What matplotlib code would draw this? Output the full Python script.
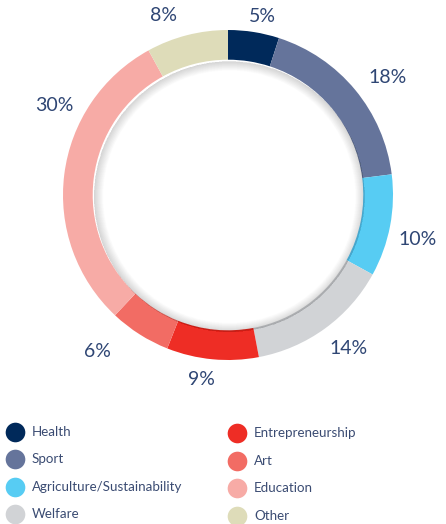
import numpy as np
import matplotlib.pyplot as plt
from matplotlib.patches import Wedge

# data
categories = ['Health', 'Sport', 'Agriculture/Sustainability', 'Welfare',
              'Entrepreneurship', 'Art', 'Education', 'Other']
shares = [5, 18, 10, 14, 9, 6, 30, 8]
colors = ['#00295a', '#65749b', '#57ccf3', '#d1d3d6',
          '#ee2d25', '#f26c64', '#f7aba6', '#dedcb9']

# label positions (in ring radius units) for each slice
label_pos = [(0.21, 1.08), (0.97, 0.715), (1.15, -0.27), (0.73, -0.93),
             (-0.16, -1.12), (-0.79, -0.95), (-1.05, 0.545), (-0.39, 1.09)]

plt.rcParams['font.family'] = ['Lato', 'DejaVu Sans']
txt_color = '#2f4674'

fig = plt.figure(figsize=(4.46, 5.24), dpi=100)
ax = fig.add_axes([0, 104 / 524, 1, 420 / 524])

ring_w = 0.18
r_in = 1 - ring_w
ax.pie(shares, colors=colors, startangle=90, counterclock=False, radius=1,
       wedgeprops=dict(width=ring_w, linewidth=0), normalize=True)
ax.set_aspect('auto')
ax.set_xlim(-228 / 165, 218 / 165)
ax.set_ylim(-225 / 165, 195 / 165)
ax.axis('off')

# soft inner shadow along the hole edge
for i in range(14):
    ax.add_patch(Wedge((0.008, -0.01), r_in, 0, 360, width=(i + 1) * 0.004,
                       facecolor='black', alpha=0.011, linewidth=0, zorder=3))

for s, (x, y) in zip(shares, label_pos):
    ax.text(x, y, f'{s}%', ha='center', va='center', fontsize=14,
            color=txt_color)

# legend
lax = fig.add_axes([0, 0, 1, 104 / 524])
lax.set_xlim(0, 446)
lax.set_ylim(104, 0)
lax.axis('off')
col_x = [15, 237]
row_y0 = [12, 13]
row_dy = [27.3, 27.7]
for i, (name, c) in enumerate(zip(categories, colors)):
    col, row = divmod(i, 4)
    y = row_y0[col] + row * row_dy[col]
    lax.scatter(col_x[col], y, s=200, color=c, linewidths=0, clip_on=False)
    lax.text(col_x[col] + 17, y, name, va='center', ha='left', fontsize=9.6,
             color='#3a4b72')

fig.savefig('out.png', dpi=100)
